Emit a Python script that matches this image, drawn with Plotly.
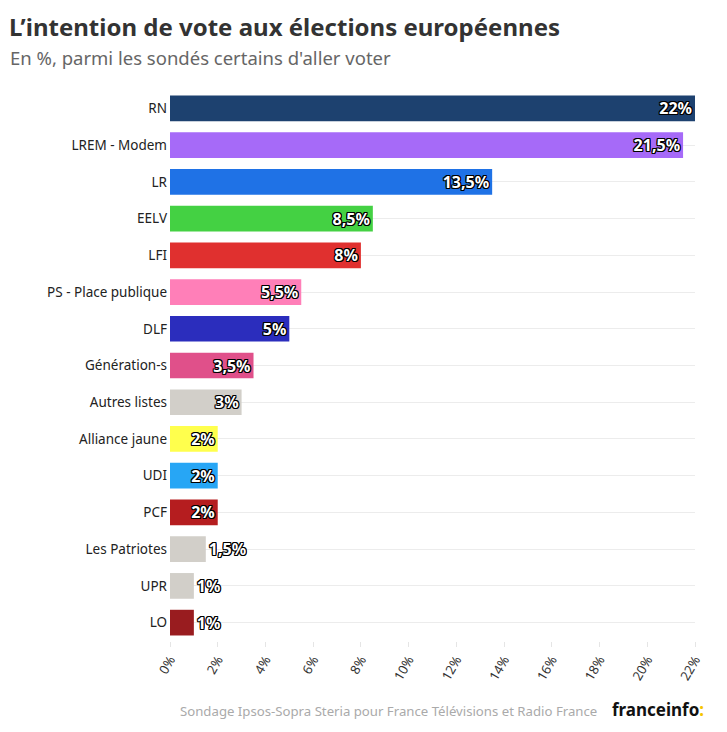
import plotly.graph_objects as go

parties = ["RN", "LREM - Modem", "LR", "EELV", "LFI", "PS - Place publique", "DLF",
           "Génération-s", "Autres listes", "Alliance jaune", "UDI", "PCF",
           "Les Patriotes", "UPR", "LO"]
values = [22, 21.5, 13.5, 8.5, 8, 5.5, 5, 3.5, 3, 2, 2, 2, 1.5, 1, 1]
labels = ["22%", "21,5%", "13,5%", "8,5%", "8%", "5,5%", "5%", "3,5%", "3%", "2%",
          "2%", "2%", "1,5%", "1%", "1%"]
colors = ["#1d416f", "#a66af8", "#1f72e6", "#44d143", "#e0302f", "#ff7fb8", "#2b2dbd",
          "#e0508a", "#d2cfc9", "#ffff4d", "#27a6f5", "#b51d1f", "#d2cfc9", "#d2cfc9",
          "#991c1f"]
xticks = [0, 2, 4, 6, 8, 10, 12, 14, 16, 18, 20, 22]
xticklabels = [f"{t}%" for t in xticks]

positions = ["inside" if v >= 2 else "outside" for v in values]

# page body has an 8px offset; compensate
OFF = 8
W, H = 727 - OFF, 732 - OFF
L, R, T, B = 170 - OFF, 32, 90 - OFF, 91
pw, ph = W - L - R, H - T - B

def px(x):
    return (x - OFF - L) / pw

def py(y):
    return (H - B - (y - OFF)) / ph

fig = go.Figure(go.Bar(
    y=parties, x=values, orientation="h",
    marker=dict(color=colors, line=dict(width=0)),
    text=labels, textposition=positions, insidetextanchor="end",
    constraintext="none", cliponaxis=False,
    textfont=dict(family="Noto Sans", size=16, color="white", weight="bold",
                  shadow="1px 1px 0 #000, -1px -1px 0 #000, 1px -1px 0 #000, -1px 1px 0 #000, 0 1px 0 #000, 0 -1px 0 #000, 1px 0 0 #000, -1px 0 0 #000"),
    hoverinfo="skip",
))

fig.update_layout(
    width=W, height=H,
    margin=dict(l=L, r=R, t=T, b=B),
    paper_bgcolor="white", plot_bgcolor="white",
    bargap=0.3, showlegend=False,
    font=dict(family="Noto Sans", color="#333"),
    xaxis=dict(range=[0, 22], tickvals=xticks, ticktext=xticklabels, tickangle=-60,
               showgrid=False, zeroline=False, showline=False,
               ticks="outside", ticklen=5, tickcolor="#e5e5e5",
               tickfont=dict(size=13, color="#333")),
    yaxis=dict(autorange="reversed", showgrid=True, gridcolor="#ececec",
               ticks="", ticklabelstandoff=2,
               tickfont=dict(size=13.5, color="#222")),
)

fig.add_annotation(text="<b>L’intention de vote aux élections européennes</b>",
                   x=px(8), y=py(OFF + 1), xref="paper", yref="paper", showarrow=False,
                   xanchor="left", yanchor="top", borderpad=0,
                   font=dict(size=24, color="#333", family="Noto Sans"))
fig.add_annotation(text="En %, parmi les sondés certains d'aller voter",
                   x=px(8), y=py(57), xref="paper", yref="paper", showarrow=False,
                   xanchor="left", yanchor="middle",
                   font=dict(size=18.5, color="#666", family="Noto Sans"))
fig.add_annotation(text="Sondage Ipsos-Sopra Steria pour France Télévisions et Radio France",
                   x=px(599), y=py(711), xref="paper", yref="paper", showarrow=False,
                   xanchor="right", yanchor="middle",
                   font=dict(size=13.2, color="#aaa", family="Noto Sans"))
fig.add_annotation(text="<b>franceinfo</b><b><span style='color:#f5c400'>:</span></b>",
                   x=px(706), y=py(709), xref="paper", yref="paper", showarrow=False,
                   xanchor="right", yanchor="middle",
                   font=dict(size=17, color="#111", family="Noto Sans"))

fig.write_html("out.html")
